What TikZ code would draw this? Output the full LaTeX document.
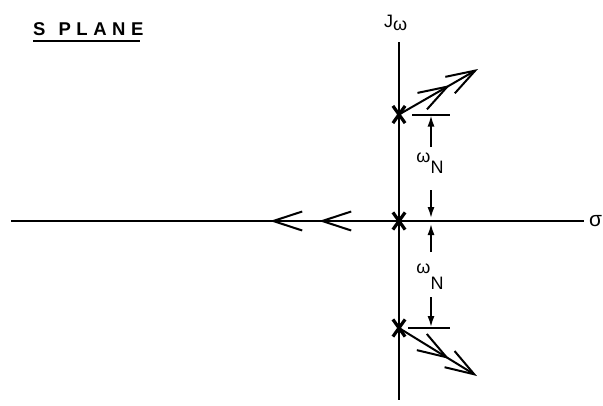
\documentclass[tikz,border=0pt]{standalone}
\usepackage{fontspec}
\setmainfont{Liberation Sans}
\newfontfamily\lettering[LetterSpace=30]{Liberation Sans Bold}
\usetikzlibrary{arrows.meta,decorations.markings,shapes.misc}

\tikzset{barb/.tip={Straight Barb[length=29pt, width=19pt, line width=2pt]}}

\begin{document}
\begin{tikzpicture}[
  x=1pt, y=-1pt,
  axis/.style={line width=2pt},
  pole/.style={cross out, draw, line width=3.2pt, minimum width=9pt,
               minimum height=14pt, inner sep=0pt},
  locus/.style={axis, -barb, postaction={decorate},
                decoration={markings, mark=at position 59pt with {\arrow{barb}}}},
  dimarr/.style={-{Latex[length=11pt, width=7pt]}, line width=1.6pt},
  lab/.style={font=\fontsize{18}{18}\selectfont, inner sep=0pt}
]
\useasboundingbox (0,0) rectangle (603,405);
% ----- axes -----
\coordinate (xl) at (11,221);
\coordinate (xr) at (584,221);
\coordinate (yt) at (399,42);
\coordinate (yb) at (399,400);
\draw[axis] (xl) -- (xr);
\draw[axis] (yt) -- (yb);
\node[lab, anchor=base west, font=\fontsize{21}{21}\selectfont] (sig) at (589,226) {σ};
\node[lab, anchor=base west] (jw) at (384,27) {J\raisebox{-3pt}{ω}};
% ----- title -----
\node[inner sep=0pt, anchor=base west, font=\lettering\fontsize{18.5}{18.5}\selectfont]
  (title) at (33,35) {S\hspace{13pt}PLANE};
\draw[axis] ([yshift=-5.5pt]title.base west) -- ([yshift=-5.5pt,xshift=-4pt]title.base east);
% ----- poles -----
\node[pole] (p1) at (399,114.5) {};
\node[pole] (p0) at (399,221) {};
\node[pole] (p2) at (399,328) {};
% ----- loci -----
\coordinate (u) at (478,69);
\coordinate (d) at (477,376);
\draw[locus] (p1.center) -- (u);
\draw[locus] (p2.center) -- (d);
\draw[axis, postaction={decorate}, decoration={markings,
      mark=at position 80pt with {\arrow{barb}},
      mark=at position 129pt with {\arrow{barb}}}] (p0.center) -- (xl);
% ----- natural frequency marks -----
\draw[axis] ([xshift=13pt]p1.center) -- ([xshift=51pt]p1.center);
\draw[axis] ([xshift=9pt]p2.center) -- ([xshift=51pt]p2.center);
\node[lab, anchor=base] (wn1) at (430,162) {ω\raisebox{-11pt}{N}};
\node[lab, anchor=base] (wn2) at (430,273) {ω\raisebox{-16pt}{N}};
\draw[dimarr] ([xshift=1pt,yshift=5pt]wn1.north) -- ([xshift=1pt,yshift=-1pt]wn1.north |- p1.center);
\draw[dimarr] ([xshift=1pt,yshift=-17pt]wn1.south) -- ([xshift=1pt,yshift=3pt]wn1.south |- p0.center);
\draw[dimarr] ([xshift=1pt,yshift=11pt]wn2.north) -- ([xshift=1pt,yshift=-3pt]wn2.north |- p0.center);
\draw[dimarr] ([xshift=1pt,yshift=-8pt]wn2.south) -- ([xshift=1pt,yshift=1pt]wn2.south |- p2.center);
\end{tikzpicture}
\end{document}
